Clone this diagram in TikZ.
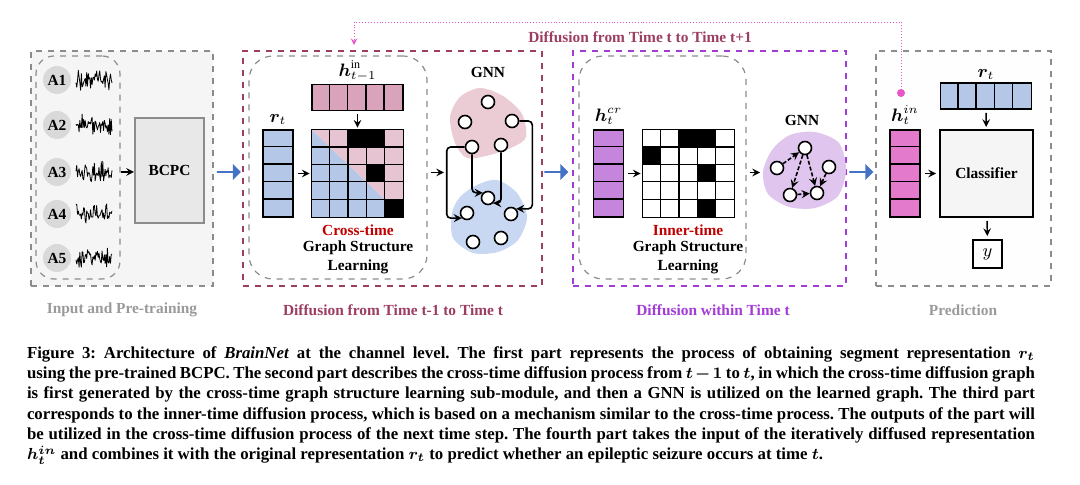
\documentclass[tikz,border=0pt]{standalone}
\usepackage{fontspec}
\setmainfont{Liberation Serif}
\usepackage{amsmath,bm}
\usepackage{xcolor}
\usetikzlibrary{shapes, arrows, positioning}

\definecolor{framegrey}{HTML}{8C8C8C}
\definecolor{panelgrey}{HTML}{F5F5F5}
\definecolor{chgrey}{HTML}{D9D9D9}
\definecolor{crossred}{HTML}{9C3D62}
\definecolor{innerpurple}{HTML}{A33BD6}
\definecolor{rtblue}{HTML}{B4C7E7}
\definecolor{hprev}{HTML}{D9A3BC}
\definecolor{adjpink}{HTML}{E6C4D2}
\definecolor{hcrcol}{HTML}{C685DD}
\definecolor{hincol}{HTML}{E47ACB}
\definecolor{blobpink}{HTML}{EBCCD5}
\definecolor{blobblue}{HTML}{C8D8F2}
\definecolor{blobpurple}{HTML}{E0C6EE}
\definecolor{fbmagenta}{HTML}{E656C8}
\definecolor{flowblue}{HTML}{4472C4}
\definecolor{gslred}{HTML}{C00000}
\definecolor{labelgrey}{HTML}{9A9A9A}

\begin{document}
\begin{tikzpicture}[
  x=0.5pt, y=-0.5pt,
  font=\fontsize{7.7}{9}\selectfont\bfseries,
  panel/.style={rectangle, draw=framegrey, dashed, line width=0.7pt, minimum height=117.5pt, inner sep=0},
  gslbox/.style={rectangle, rounded corners=12pt, draw=framegrey, dashed, line width=0.6pt, minimum height=111.5pt, inner sep=0},
  chan/.style={circle, fill=chgrey, minimum size=14pt, inner sep=0},
  vcol/.style={rectangle, draw, line width=0.8pt, minimum width=15pt, minimum height=43.5pt, inner sep=0},
  vrow/.style={rectangle, draw, line width=0.8pt, minimum width=45.5pt, minimum height=13pt, inner sep=0},
  adjmat/.style={rectangle, minimum width=45.5pt, minimum height=43.5pt, inner sep=0},
  gnode/.style={circle, draw, line width=0.8pt, fill=white, minimum size=6.5pt, inner sep=0},
  mathlbl/.style={font=\fontsize{9}{10}\selectfont, inner sep=0.5pt},
  arrow/.style={->, >=stealth, line width=0.7pt},
  gedge/.style={->, >=stealth, line width=0.8pt, rounded corners=2pt},
  dedge/.style={->, >=stealth, line width=0.8pt, dash pattern=on 2pt off 1pt},
  flow/.style={single arrow, fill=flowblue, minimum height=12pt, minimum width=8pt, single arrow head extend=1.8pt, inner sep=0},
  wave/.style={line width=0.4pt, line join=round}
]
\useasboundingbox (0,0) rectangle (1080,485);

% Part 1: Input and Pre-training
\node[panel, fill=panelgrey, minimum width=91pt] (inpanel) at (122,168.5) {};
\node[gslbox, rounded corners=9pt, minimum width=42pt] (chbox) at (78,167.5) {};
\pgfmathsetseed{12}
\foreach \i/\cy in {1/80,2/125,3/172,4/214,5/258} {
  \node[chan] (ch\i) at (57,\cy) {A\i};
  \draw[wave] plot[domain=76:112, samples=48] (\x, {\cy + 11*rand*(0.25+0.75*abs(sin(\x*19+\cy*7)))});
}
\node[rectangle, draw=framegrey, line width=1pt, fill=chgrey!60, minimum width=34.5pt, minimum height=52.5pt] (bcpc) at (169.5,170.5) {BCPC};
\draw[arrow] (chbox.east |- ch3) -- (bcpc.west |- ch3);
\node[text=labelgrey] (inlbl) at (122,310) {Input and Pre-training};

\node[flow] (flow1) at (228.5,172) {};

% Part 2: Diffusion from Time t-1 to Time t
\node[panel, draw=crossred, minimum width=149.5pt] (crosspanel) at (392.5,168.5) {};
\node[gslbox, minimum width=89pt] (gsl1) at (338,167.5) {};
\node[vcol, fill=rtblue] (rt) at (278,173.5) {};
\node[mathlbl, above=1.5pt of rt] (rtlbl) {$\bm{r}_t$};
\node[vrow, fill=hprev] (hprev) at (357.5,97.5) {};
\node[mathlbl, above=0.5pt of hprev] (hprevlbl) {$\bm{h}_{t-1}^{\mathrm{in}}$};
\node[adjmat] (adj1) at (357.5,173.5) {};
\fill[rtblue] (adj1.north west) -- (adj1.south west) -- (adj1.south east) -- cycle;
\fill[adjpink] (adj1.north west) -- (adj1.north east) -- (adj1.south east) -- cycle;
\foreach \r/\c in {1/3,1/4,3/4,5/5}
  \fill ([xshift=(\c-1)*9.1pt, yshift=-(\r-1)*8.7pt]adj1.north west) rectangle ++(9.1pt,-8.7pt);
\node[text=gslred] (ctlbl) at (358,230) {Cross-time};
\node (gsl1a) at (358,248) {Graph Structure};
\node (gsl1b) at (358,267) {Learning};

% GNN over the cross-time graph
\node (gnn1lbl) at (488,72) {GNN};
\fill[blobpink] plot[smooth cycle] coordinates {(450,117) (460,97) (480,88) (503,96) (522,114) (526,137) (513,147) (490,155) (467,158) (455,143)};
\fill[blobblue] plot[smooth cycle] coordinates {(477,185) (497,180) (517,193) (527,217) (518,240) (498,252) (473,253) (453,238) (452,213) (460,197)};
\foreach \n/\gx/\gy in {1/488/102, 2/465/122, 3/512/121, 4/472/147, 5/501/145, 6/488/198, 7/467/213, 8/511/214, 9/473/242, 10/501/238}
  \node[gnode] (g\n) at (\gx,\gy) {};
\draw[gedge] (g4.west) -- ++(-18,0) |- (g7.south west);
\draw[gedge] (g4.south) |- (g6.north west);
\draw[gedge] (g5.south) |- (g6.south east);
\draw[gedge] (g3.east) -- ++(13,0) |- (g8.north east);
\coordinate (gnn1in) at (444,172.5);
\node[text=crossred] (crosslbl) at (393,310) {Diffusion from Time t-1 to Time t};

\node[flow] (flow2) at (556,172) {};

% Part 3: Diffusion within Time t
\node[panel, draw=innerpurple, minimum width=136.5pt] (innerpanel) at (709.5,168.5) {};
\node[gslbox, minimum width=83.5pt] (gsl2) at (662.5,167.5) {};
\node[vcol, fill=hcrcol] (hcr) at (608.5,173.5) {};
\node[mathlbl, above=1.5pt of hcr] (hcrlbl) {$\bm{h}_t^{cr}$};
\node[adjmat, fill=white] (adj2) at (688.5,173.5) {};
\foreach \r/\c in {1/3,1/4,2/1,3/4,5/4}
  \fill ([xshift=(\c-1)*9.1pt, yshift=-(\r-1)*8.7pt]adj2.north west) rectangle ++(9.1pt,-8.7pt);
\node[text=gslred] (itlbl) at (688,230) {Inner-time};
\node (gsl2a) at (688,248) {Graph Structure};
\node (gsl2b) at (688,267) {Learning};

% GNN over the inner-time graph
\node (gnn2lbl) at (802,120) {GNN};
\fill[blobpurple] plot[smooth cycle] coordinates {(772,150) (790,135) (815,132) (839,143) (846,170) (838,196) (815,208) (789,207) (768,194) (763,172)};
\foreach \n/\gx/\gy in {1/777/168, 2/805/148, 3/829/167, 4/790/195, 5/817/193}
  \node[gnode] (h\n) at (\gx,\gy) {};
\draw[dedge] (h1) -- (h2);
\draw[dedge] (h2) -- (h4);
\draw[dedge] (h2) -- (h5);
\draw[dedge] (h4) -- (h5);
\draw[dedge] (h3) -- (h5);
\coordinate (gnn2in) at (760,172.5);
\node[text=innerpurple] (innerlbl) at (713,310) {Diffusion within Time t};

\node[flow] (flow3) at (861,172) {};

% Part 4: Prediction
\node[panel, fill=panelgrey!90!black!4, minimum width=87.5pt] (predpanel) at (963.5,168.5) {};
\node[vcol, fill=hincol] (hin) at (905,173.5) {};
\node[mathlbl, above=1.5pt of hin] (hinlbl) {$\bm{h}_t^{in}$};
\node[vrow, fill=rtblue] (rt4) at (986,96) {};
\node[mathlbl, above=0.5pt of rt4] (rt4lbl) {$\bm{r}_t$};
\node[rectangle, draw, line width=1pt, fill=panelgrey, minimum width=46.5pt, minimum height=43.5pt] (cls) at (986.5,173.5) {Classifier};
\node[rectangle, draw, line width=1pt, minimum width=14.5pt, minimum height=14pt, font=\fontsize{9}{10}\selectfont] (yout) at (987.5,254) {$y$};
\node[text=labelgrey] (predlbl) at (963,310) {Prediction};

% cells of the vectors and grids of the matrices
\foreach \v in {rt,hcr,hin}
  \foreach \k in {1,...,4}
    \draw[line width=0.8pt] ([yshift=-\k*8.7pt]\v.north west) -- ([yshift=-\k*8.7pt]\v.north east);
\foreach \v in {hprev,rt4}
  \foreach \k in {1,...,4}
    \draw[line width=0.8pt] ([xshift=\k*9.1pt]\v.north west) -- ([xshift=\k*9.1pt]\v.south west);
\foreach \v in {adj1,adj2} {
  \foreach \k in {1,...,4} {
    \draw[line width=0.6pt] ([xshift=\k*9.1pt]\v.north west) -- ([xshift=\k*9.1pt]\v.south west);
    \draw[line width=0.6pt] ([yshift=-\k*8.7pt]\v.north west) -- ([yshift=-\k*8.7pt]\v.north east);
  }
  \draw[line width=0.8pt] (\v.north west) rectangle (\v.south east);
}

% Connections
\draw[arrow, shorten <=2pt, shorten >=1pt] (rt) -- (adj1);
\draw[arrow, shorten <=1.5pt, shorten >=1pt] (hprev) -- (adj1);
\draw[arrow, shorten <=1.5pt] (gsl1.east |- gnn1in) -- (gnn1in);
\draw[arrow, shorten <=2pt, shorten >=1pt] (hcr) -- (adj2);
\draw[arrow, shorten <=1.5pt] (gsl2.east |- gnn2in) -- (gnn2in);
\draw[arrow, shorten <=2pt, shorten >=1.5pt] (hin) -- (cls);
\draw[arrow, shorten <=1.5pt, shorten >=1pt] (rt4) -- (cls);
\draw[arrow, shorten <=1.5pt, shorten >=1.5pt] (cls) -- (yout);

% Feedback to the next time step
\coordinate (fbdot) at (901,93);
\coordinate (fbend) at (354,45);
\fill[fbmagenta] (fbdot) circle (2pt);
\draw[->, >=stealth, fbmagenta, line width=0.45pt, densely dotted] (fbdot) -- (901,22) -| (fbend);
\node[text=crossred] (fblbl) at (640,37) {Diffusion from Time t to Time t+1};

% Caption
\node[anchor=north, inner sep=0, text width=504pt, align=justify, font=\fontsize{8.4}{10.15}\selectfont\bfseries\boldmath\frenchspacing] (caption) at (531,346) {Figure 3: Architecture of \textit{BrainNet} at the channel level. The first part represents the process of obtaining segment representation $r_t$\linebreak
using the pre-trained BCPC. The second part describes the cross-time diffusion process from $t-1$ to $t$, in which the cross-time diffusion graph\linebreak
is first generated by the cross-time graph structure learning sub-module, and then a GNN is utilized on the learned graph. The third part\linebreak
corresponds to the inner-time diffusion process, which is based on a mechanism similar to the cross-time process. The outputs of the part will\linebreak
be utilized in the cross-time diffusion process of the next time step. The fourth part takes the input of the iteratively diffused representation\linebreak
$h_t^{in}$ and combines it with the original representation $r_t$ to predict whether an epileptic seizure occurs at time $t$.};

\end{tikzpicture}
\end{document}
